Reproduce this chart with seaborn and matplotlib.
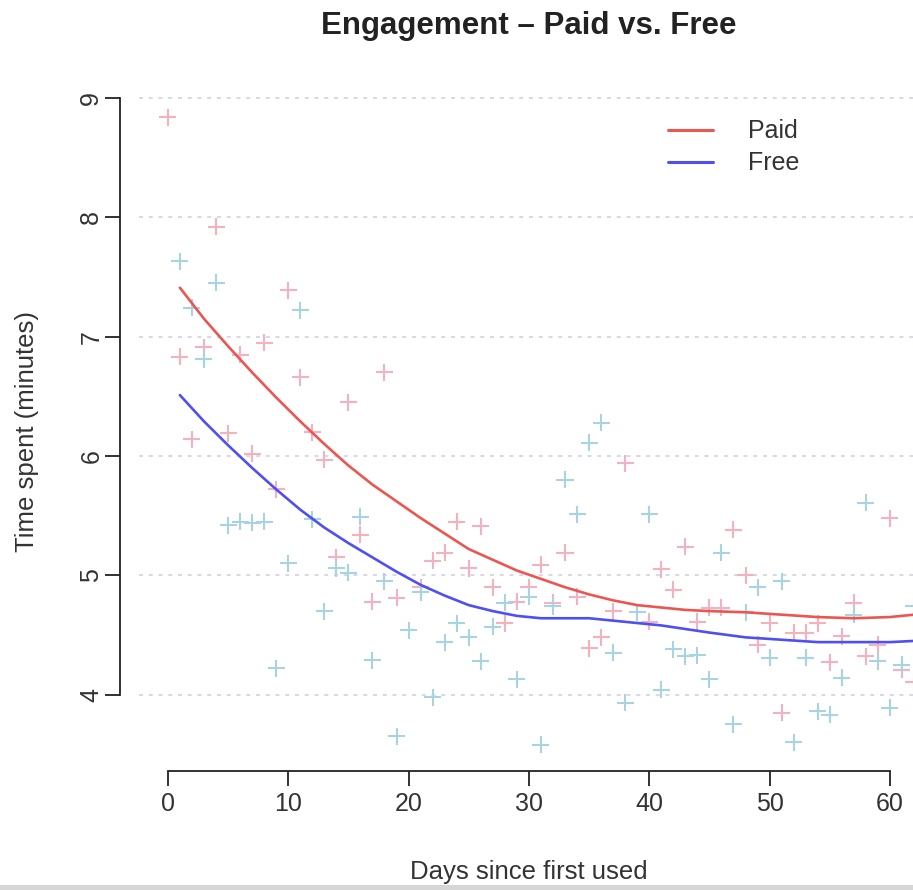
import numpy as np
import pandas as pd
import matplotlib
matplotlib.use("Agg")
import matplotlib.pyplot as plt
from matplotlib.patches import Rectangle
import seaborn as sns

# ---- data -------------------------------------------------------------
paid_days = [0, 1, 2, 3, 4, 5, 6, 7, 8, 9, 10, 11, 12, 13, 14, 15, 16, 17, 18, 19,
             21, 22, 23, 24, 25, 26, 27, 28, 29, 30, 31, 32, 33, 34, 35, 36, 37, 38,
             40, 41, 42, 43, 44, 45, 46, 47, 48, 49, 50, 51, 52, 53, 54, 55, 56, 57,
             58, 59, 60, 61, 62]
paid_time = [8.84, 6.83, 6.14, 6.91, 7.92, 6.19, 6.85, 6.02, 6.95, 5.72, 7.39, 6.66,
             6.20, 5.97, 5.15, 6.45, 5.34, 4.78, 6.70, 4.81,
             4.90, 5.12, 5.19, 5.45, 5.06, 5.41, 4.90, 4.60, 4.78, 4.90, 5.09, 4.77,
             5.19, 4.82, 4.39, 4.48, 4.70, 5.94,
             4.61, 5.05, 4.88, 5.24, 4.61, 4.73, 4.73, 5.38, 5.00, 4.42, 4.60, 3.85,
             4.52, 4.52, 4.60, 4.27, 4.49, 4.77, 4.32, 4.42, 5.48, 4.21, 4.11]

free_days = list(range(1, 63))
free_time = [7.63, 7.24, 6.81, 7.45, 5.42, 5.45, 5.44, 5.45, 4.22, 5.10, 7.22, 5.47,
             4.70, 5.06, 5.02, 5.49, 4.29, 4.95, 3.65, 4.54, 4.86, 3.98, 4.44, 4.60,
             4.48, 4.28, 4.57, 4.77, 4.13, 4.82, 3.58, 4.74, 5.80, 5.51, 6.11, 6.28,
             4.35, 3.93, 4.69, 5.51, 4.04, 4.38, 4.32, 4.33, 4.13, 5.19, 3.75, 4.69,
             4.90, 4.31, 4.95, 3.60, 4.31, 3.86, 3.83, 4.14, 4.67, 5.61, 4.28, 3.89,
             4.25, 4.74]

# smoothed trend for each plan
fit_days = [1, 3, 5, 7, 9, 11, 13, 15, 17, 19, 21, 23, 25, 27, 29, 31, 33, 35, 37,
            39, 41, 43, 45, 48, 51, 54, 57, 60, 62]
paid_fit = [7.41, 7.15, 6.92, 6.70, 6.49, 6.29, 6.10, 5.92, 5.76, 5.62, 5.48, 5.35,
            5.22, 5.13, 5.04, 4.97, 4.90, 4.84, 4.79, 4.75, 4.73, 4.71, 4.70, 4.69,
            4.67, 4.65, 4.64, 4.65, 4.67]
free_fit = [6.51, 6.29, 6.09, 5.90, 5.72, 5.55, 5.40, 5.27, 5.15, 5.03, 4.92, 4.83,
            4.75, 4.70, 4.66, 4.64, 4.64, 4.64, 4.62, 4.60, 4.58, 4.55, 4.52, 4.48,
            4.46, 4.44, 4.44, 4.44, 4.45]

plans = ["Paid", "Free"]
y_ticks = [4, 5, 6, 7, 8, 9]
x_ticks = [0, 10, 20, 30, 40, 50, 60]

points = pd.concat([
    pd.DataFrame({"day": paid_days, "time": paid_time, "plan": "Paid"}),
    pd.DataFrame({"day": free_days, "time": free_time, "plan": "Free"}),
], ignore_index=True)
trend = pd.concat([
    pd.DataFrame({"day": fit_days, "time": paid_fit, "plan": "Paid"}),
    pd.DataFrame({"day": fit_days, "time": free_fit, "plan": "Free"}),
], ignore_index=True)

# ---- style ------------------------------------------------------------
sns.set_theme(style="white")
plt.rcParams["font.family"] = ["Liberation Sans", "DejaVu Sans"]
text_col = "#333333"
point_pal = {"Paid": "#f4b1be", "Free": "#a8d3e3"}
line_pal = {"Paid": "#ec5650", "Free": "#4f4ff2"}

W, H = 913, 890
fig = plt.figure(figsize=(W / 100, H / 100), dpi=100)
fig.patch.set_facecolor("white")

# plot region in pixels (left, top, right, bottom)
L, T, R, B = 139, 92, 920, 771
ax = fig.add_axes([L / W, 1 - B / H, (R - L) / W, (B - T) / H])
ax.set_xlim(-2.4, 62.5)
ax.set_ylim(3.36, 9.05)

# dotted horizontal guides
for yv in y_ticks:
    ax.axhline(yv, color="#d4d4e6", lw=1.3, ls=(0, (2.2, 3.2)), zorder=0)

sns.scatterplot(data=points, x="day", y="time", hue="plan", palette=point_pal,
                marker="+", s=150, linewidth=1.5, legend=False, ax=ax, zorder=2)
sns.lineplot(data=trend, x="day", y="time", hue="plan", palette=line_pal,
             hue_order=plans, lw=1.9, ax=ax, zorder=3, legend=False)

# axes in a detached, base-graphics style
for side in ["top", "right"]:
    ax.spines[side].set_visible(False)
ax.spines["left"].set_position(("outward", 13.7))
ax.spines["left"].set_bounds(4, 9)
ax.spines["bottom"].set_bounds(0, 60)
for side in ["left", "bottom"]:
    ax.spines[side].set_color("#222222")
    ax.spines[side].set_linewidth(1.3)

ax.set_xticks(x_ticks)
ax.set_yticks(y_ticks)
ax.set_xticklabels([str(v) for v in x_ticks])
ax.set_yticklabels([str(v) for v in y_ticks], rotation=90, va="center")
ax.tick_params(axis="both", direction="out", length=11, width=1.3, color="#222222",
               labelsize=18, labelcolor=text_col, pad=4, bottom=True, left=True)
ax.tick_params(axis="y", pad=1)
ax.set_xlabel("")
ax.set_ylabel("")

# legend
handles = [plt.Line2D([], [], color=line_pal[p], lw=2.2) for p in plans]
fig.legend(handles, plans, loc="upper left",
           bbox_to_anchor=(645 / W, 1 - 97 / H), frameon=False, fontsize=18,
           handlelength=1.8, handletextpad=1.4, labelspacing=0.32, labelcolor=text_col)

# titles
fig.text(529 / W, 1 - 26 / H, "Engagement \u2013 Paid vs. Free", ha="center",
         va="center", fontsize=22.5, fontweight="bold", color="#222222")
fig.text(27 / W, 1 - 431 / H, "Time spent (minutes)", ha="center", va="center",
         rotation=90, fontsize=18.5, color=text_col)
fig.text(529 / W, 1 - 860 / H, "Days since first used", ha="center", va="top",
         fontsize=18.5, color=text_col)

# thin grey strip along the lower edge
fig.add_artist(Rectangle((0, 0), 1, 5 / H, transform=fig.transFigure,
                         facecolor="#d6d6d6", edgecolor="none", zorder=10))

fig.savefig("out.png", dpi=100)
